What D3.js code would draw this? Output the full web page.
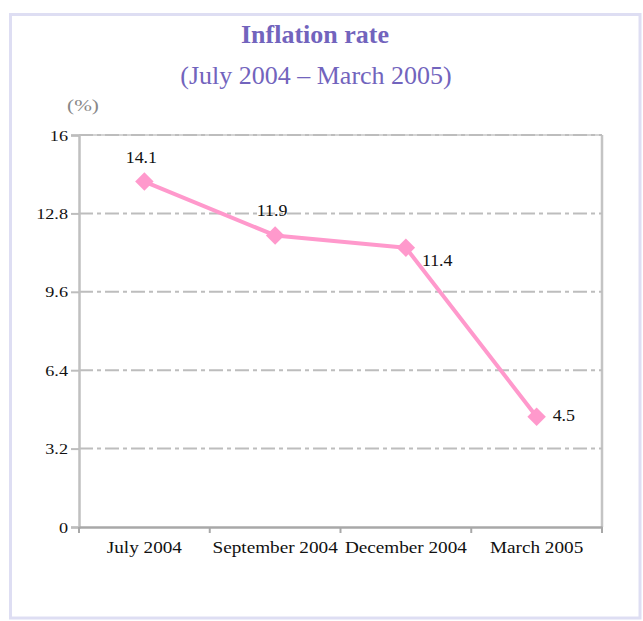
<!DOCTYPE html>
<html>
<head>
<meta charset="utf-8">
<script src="https://cdn.jsdelivr.net/npm/d3@7"></script>
<style>
  html, body { margin: 0; padding: 0; background: #fff; }
  svg { display: block; }
  text { font-family: "Liberation Serif", "Times New Roman", serif; }
</style>
</head>
<body>
<script>
// ---- data ----
const categories = ["July 2004", "September 2004", "December 2004", "March 2005"];
const inflation = [14.1, 11.9, 11.4, 4.5];
const yTicks = [0, 3.2, 6.4, 9.6, 12.8, 16];
const labelPlacement = ["above", "above", "belowRight", "right"];
const title = "Inflation rate";
const subtitle = "(July 2004 \u2013 March 2005)";
const unitLabel = "(%)";

// ---- layout ----
const W = 643, H = 621;
const plot = { left: 79, right: 602, top: 135, bottom: 527 };

const svg = d3.select("body").append("svg").attr("width", W).attr("height", H);

// outer frame
svg.append("rect")
  .attr("x", 10.5).attr("y", 14.5).attr("width", 629.5).attr("height", 603.5)
  .attr("fill", "#fff").attr("stroke", "#dedef3").attr("stroke-width", 3);

const x = d3.scaleBand().domain(categories).range([plot.left, plot.right]);
const y = d3.scaleLinear().domain([0, 16]).range([plot.bottom, plot.top]);

// titles
svg.append("text").attr("x", 315).attr("y", 43).attr("text-anchor", "middle")
  .attr("font-size", 26).attr("font-weight", "bold").attr("fill", "#7264bd").text(title);
svg.append("text").attr("x", 316).attr("y", 84).attr("text-anchor", "middle")
  .attr("font-size", 26).attr("fill", "#7264bd").text(subtitle);

// unit label
svg.append("text").attr("transform", "translate(83,111) scale(1.25,1)")
  .attr("text-anchor", "middle").attr("font-size", 17).attr("fill", "#888").text(unitLabel);

// plot frame (top, right)
const g = svg.append("g");
g.append("line").attr("x1", plot.left).attr("x2", plot.right).attr("y1", plot.top).attr("y2", plot.top)
  .attr("stroke", "#d4d4d4").attr("stroke-width", 2);
g.append("line").attr("x1", plot.right).attr("x2", plot.right).attr("y1", plot.top).attr("y2", plot.bottom)
  .attr("stroke", "#c4c4c4").attr("stroke-width", 2.5);

// gridlines
g.selectAll("line.grid").data(yTicks.filter(d => d > 0)).join("line")
  .attr("class", "grid")
  .attr("x1", plot.left).attr("x2", plot.right)
  .attr("y1", d => y(d)).attr("y2", d => y(d))
  .attr("stroke", "#bdbdbd").attr("stroke-width", 2)
  .attr("stroke-dasharray", "14,4,4,4");

// y axis
const yAxis = svg.append("g").attr("transform", `translate(${plot.left},0)`)
  .call(d3.axisLeft(y).tickValues(yTicks).tickSize(8).tickPadding(4)
    .tickFormat(d => d3.format("")(d)));
yAxis.attr("font-family", null);
yAxis.select(".domain").attr("stroke", "#c0c0c0").attr("stroke-width", 2.5);
yAxis.selectAll(".tick line").attr("stroke", "#bdbdbd").attr("stroke-width", 2);
yAxis.selectAll(".tick text")
  .attr("font-size", 14).attr("fill", "#111")
  .attr("x", null).attr("dy", null)
  .attr("transform", "translate(-11,5) scale(1.3,1)");

// x axis
const xAxis = svg.append("g").attr("transform", `translate(0,${plot.bottom})`)
  .call(d3.axisBottom(x).tickSize(0).tickFormat(""));
xAxis.select(".domain").attr("stroke", "#a8a8a8").attr("stroke-width", 2.5);
const boundaries = categories.map(c => x(c)).concat([x(categories[categories.length - 1]) + x.bandwidth()]);
xAxis.selectAll("line.bnd").data(boundaries).join("line").attr("class", "bnd")
  .attr("x1", d => d).attr("x2", d => d).attr("y1", 0).attr("y2", 6)
  .attr("stroke", "#a8a8a8").attr("stroke-width", 2);
xAxis.selectAll("text.cat").data(categories).join("text").attr("class", "cat")
  .attr("transform", d => `translate(${x(d) + x.bandwidth() / 2},26) scale(1.2,1)`)
  .attr("text-anchor", "middle").attr("font-size", 16).attr("fill", "#111").text(d => d);

// series line
const cx = (d, i) => x(categories[i]) + x.bandwidth() / 2;
const line = d3.line().x((d, i) => cx(d, i)).y(d => y(d));
svg.append("path").datum(inflation).attr("d", line)
  .attr("fill", "none").attr("stroke", "#ff99cc").attr("stroke-width", 4)
  .attr("stroke-linejoin", "round");

// markers
svg.selectAll("path.mk").data(inflation).join("path").attr("class", "mk")
  .attr("d", d3.symbol().type(d3.symbolSquare).size(170))
  .attr("transform", (d, i) => `translate(${cx(d, i)},${y(d)}) rotate(45)`)
  .attr("fill", "#ff99cc");

// value labels
const offsets = {
  above: { dx: -3, dy: -19, anchor: "middle" },
  belowRight: { dx: 16, dy: 18, anchor: "start" },
  right: { dx: 16, dy: 4, anchor: "start" }
};
svg.selectAll("text.val").data(inflation).join("text").attr("class", "val")
  .attr("transform", (d, i) => {
    const o = offsets[labelPlacement[i]];
    return `translate(${cx(d, i) + o.dx},${y(d) + o.dy}) scale(1.12,1)`;
  })
  .attr("text-anchor", (d, i) => offsets[labelPlacement[i]].anchor)
  .attr("font-size", 16).attr("fill", "#111")
  .text(d => d3.format(".1f")(d));
</script>
</body>
</html>
